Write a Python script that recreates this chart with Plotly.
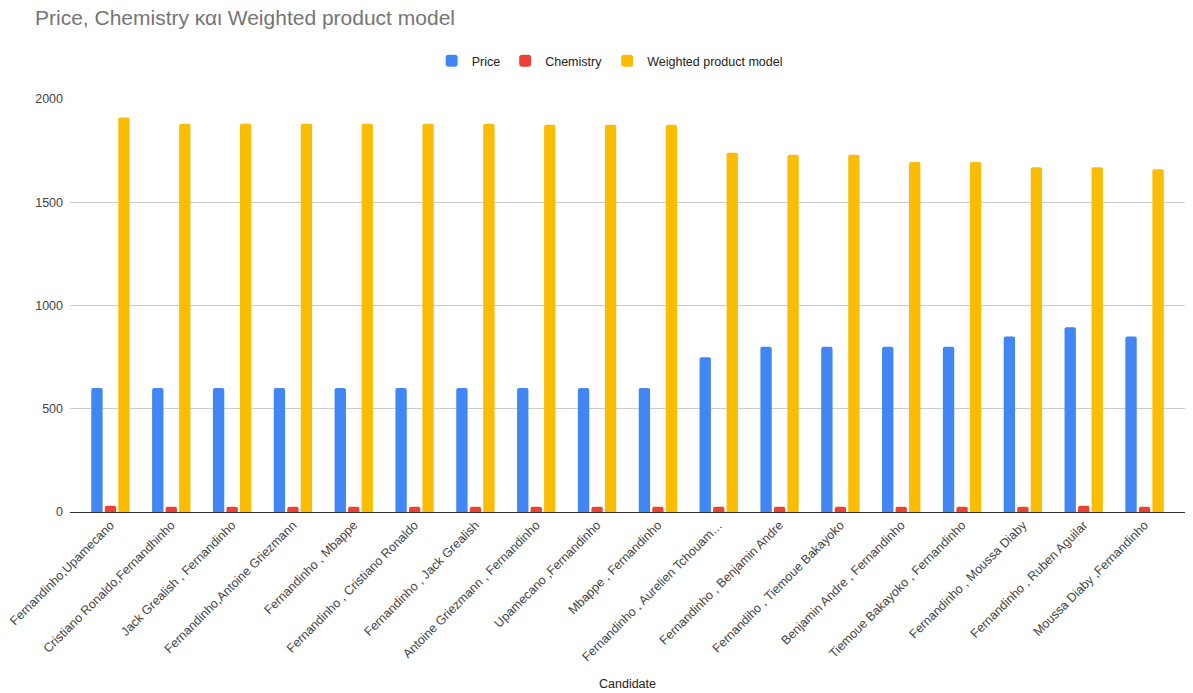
import plotly.graph_objects as go

candidates = [
    "Fernandinho,Upamecano",
    "Cristiano Ronaldo,Fernandhinho",
    "Jack Grealish , Fernandinho",
    "Fernandinho,Antoine Griezmann",
    "Fernandinho , Mbappe",
    "Fernandinho , Cristiano Ronaldo",
    "Fernandinho , Jack Grealish",
    "Antoine Griezmann , Fernandinho",
    "Upamecano ,Fernandinho",
    "Mbappe , Fernandinho",
    "Fernandinho , Aurelien Tchouam…",
    "Fernandinho , Benjamin Andre",
    "Fernandiho , Tiemoue Bakayoko",
    "Benjamin Andre , Fernandinho",
    "Tiemoue Bakayoko , Fernandinho",
    "Fernandinho , Moussa Diaby",
    "Fernandinho , Ruben Aguilar",
    "Moussa Diaby ,Fernandinho",
]
price = [600, 600, 600, 600, 600, 600, 600, 600, 600, 600,
         750, 800, 800, 800, 800, 850, 895, 850]
chemistry = [30, 25, 25, 25, 25, 25, 25, 25, 25, 25,
             25, 25, 25, 25, 25, 25, 30, 25]
weighted = [1910, 1880, 1880, 1880, 1880, 1880, 1880, 1875, 1875, 1875,
            1740, 1730, 1730, 1695, 1695, 1670, 1670, 1660]
y_ticks = [0, 500, 1000, 1500, 2000]

FONT = "Arial, Liberation Sans, sans-serif"

fig = go.Figure()
fig.add_trace(go.Bar(name="Price", x=candidates, y=price, marker_color="#4285F4"))
fig.add_trace(go.Bar(name="Chemistry", x=candidates, y=chemistry, marker_color="#EA4335"))
fig.add_trace(go.Bar(name="Weighted product model", x=candidates, y=weighted, marker_color="#FBBC04"))

fig.update_traces(marker_line_width=0, hoverinfo="x+y")

fig.update_layout(
    width=1193,
    height=693,
    autosize=False,
    margin=dict(l=70, r=8, t=99, b=181, pad=0),
    paper_bgcolor="white",
    plot_bgcolor="white",
    font=dict(family=FONT, size=12.5, color="#444444"),
    barmode="group",
    bargap=0.334,
    bargroupgap=0.16,
    barcornerradius=2,
    title=dict(
        text="Price, Chemistry και Weighted product model",
        x=35 / 1193, xanchor="left", xref="container",
        y=1 - 18 / 693, yanchor="middle", yref="container",
        font=dict(family=FONT, size=21, color="#757575"),
    ),
    showlegend=True,
    legend=dict(
        orientation="h",
        x=0.484, xanchor="center",
        y=(512 - 61) / 413, yanchor="middle",
        font=dict(family=FONT, size=12.5, color="#222222"),
        itemwidth=30,
        itemsizing="constant",
        traceorder="normal",
    ),
    xaxis=dict(
        type="category",
        range=[-0.5 - 0.165, 17.5 + 0.165],
        tickangle=-45,
        tickfont=dict(family=FONT, size=12.5, color="#444444"),
        showgrid=False,
        showline=True,
        linecolor="#333333",
        linewidth=1,
        ticks="",
        automargin=False,
    ),
    yaxis=dict(
        range=[0, 2000],
        tickvals=y_ticks,
        ticktext=[str(v) for v in y_ticks],
        tickfont=dict(family=FONT, size=12.5, color="#444444"),
        showgrid=True,
        gridcolor="#cccccc",
        gridwidth=1,
        zeroline=True,
        zerolinecolor="#333333",
        zerolinewidth=1,
        ticks="",
        ticklabelstandoff=6,
        automargin=False,
    ),
    annotations=[
        dict(
            text="Candidate",
            xref="paper", yref="paper",
            x=0.5, y=(512 - 684) / 413,
            xanchor="center", yanchor="middle",
            showarrow=False,
            font=dict(family=FONT, size=12.5, color="#222222"),
        )
    ],
)

fig.write_html("out.html")
